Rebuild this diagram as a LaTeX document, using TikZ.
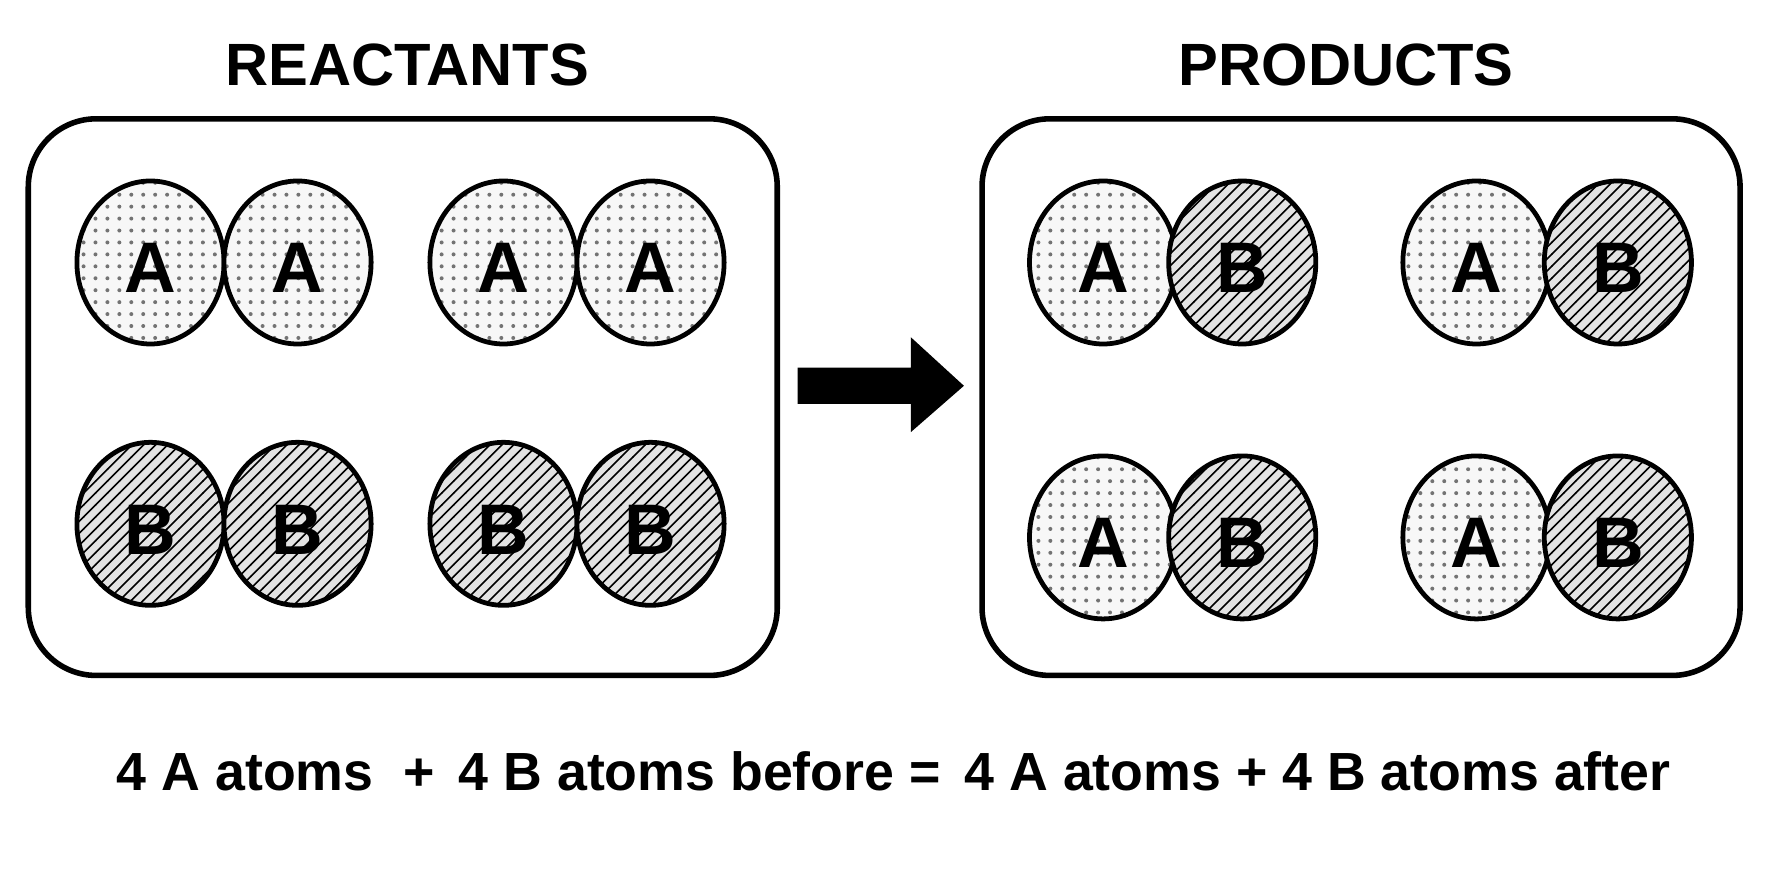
\documentclass[tikz,border=0pt]{standalone}
\usepackage{fontspec}
\setmainfont{Liberation Sans}
\usetikzlibrary{patterns,shapes.geometric}
\begin{document}
\begin{tikzpicture}[x=0.01cm,y=-0.01cm,
  box/.style={draw,line width=1.4pt,rounded corners=0.6cm},
  atomA/.style={ellipse,minimum width=1.3cm,minimum height=1.44cm,draw,line width=1.2pt,preaction={fill=gray!6},pattern=dots,pattern color=black!55,inner sep=0pt},
  atomB/.style={ellipse,minimum width=1.3cm,minimum height=1.44cm,draw,line width=1.2pt,preaction={fill=gray!22},pattern=north east lines,inner sep=0pt},
  let/.style={font=\bfseries\fontsize{18}{18}\selectfont},
  lbl/.style={font=\bfseries\fontsize{15}{15}\selectfont},
  txt/.style={font=\bfseries\fontsize{13.5}{14}\selectfont}]
\useasboundingbox (0,0) rectangle (1568,784);
\fill[white] (0,0) rectangle (1568,784);
\node[lbl] (t1) at (360,57) {REACTANTS};
\node[lbl] (t2) at (1190,57) {PRODUCTS};
\draw[box] (25,105) rectangle (687,597);
\draw[box] (868,105) rectangle (1538,597);
\foreach \x/\n in {133/a1,263/a2,445/a3,575/a4}{
  \node[atomA] (\n) at (\x,232) {};
  \node[let] at (\x,237) {A};}
\foreach \x/\n in {133/b1,263/b2,445/b3,575/b4}{
  \node[atomB] (\n) at (\x,463) {};
  \node[let] at (\x,468) {B};}
\foreach \y/\m in {232/p,475/q}{
  \foreach \x/\n in {975/1,1305/2}{
    \node[atomA] (\m a\n) at (\x,\y) {};
    \node[let] at (\x,\y+5) {A};}
  \foreach \x/\n in {1098/1,1430/2}{
    \node[atomB] (\m b\n) at (\x,\y) {};
    \node[let] at (\x,\y+5) {B};}}
\fill (705,325) -- (805,325) -- (805,298) -- (852,341) -- (805,382) -- (805,357) -- (705,357) -- cycle;
\node[txt] (eq) at (790,682) {4 A atoms \ + \,4 B atoms before = \,4 A atoms + 4 B atoms after};
\end{tikzpicture}
\end{document}
